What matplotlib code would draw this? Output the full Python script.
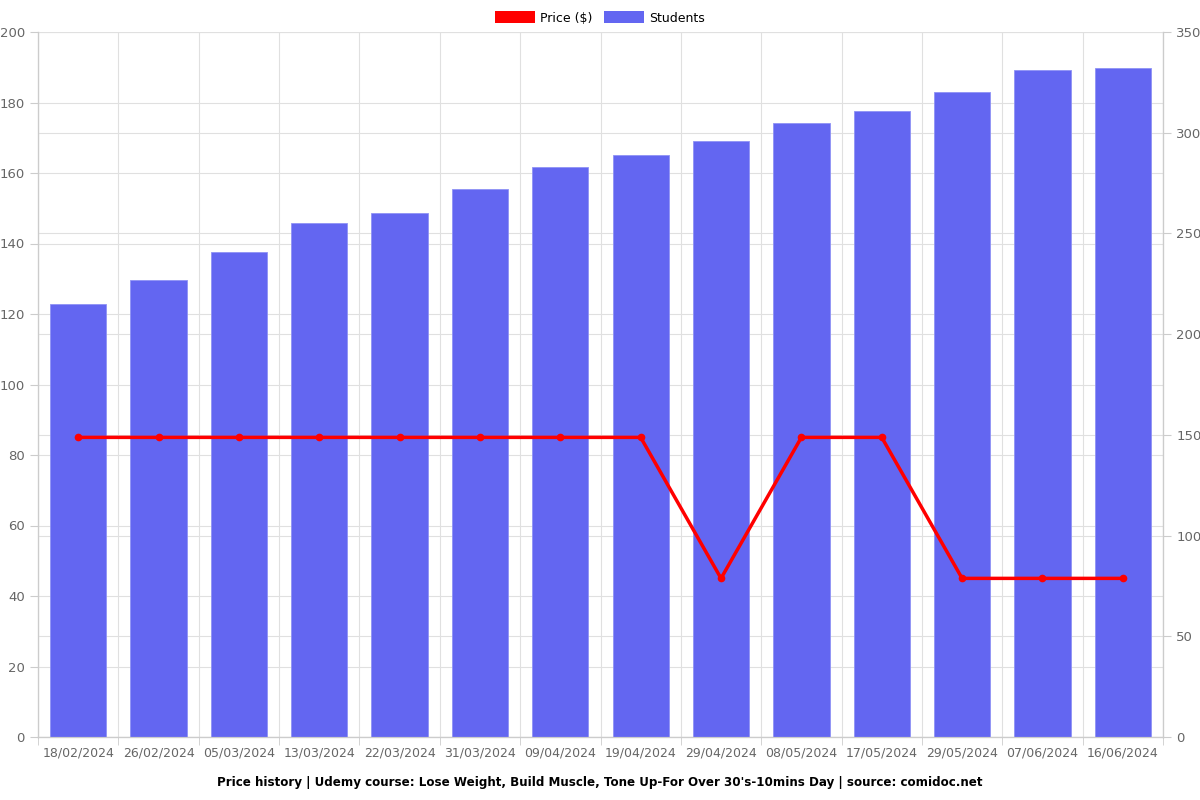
import matplotlib
matplotlib.use('Agg')
import matplotlib.pyplot as plt
from matplotlib.patches import Patch
from matplotlib.ticker import MultipleLocator, FixedLocator

# Data
dates = ['18/02/2024', '26/02/2024', '05/03/2024', '13/03/2024', '22/03/2024',
         '31/03/2024', '09/04/2024', '19/04/2024', '29/04/2024', '08/05/2024',
         '17/05/2024', '29/05/2024', '07/06/2024', '16/06/2024']
students = [215, 227, 241, 255, 260, 272, 283, 289, 296, 305, 311, 320, 331, 332]
price = [85, 85, 85, 85, 85, 85, 85, 85, 45, 85, 85, 45, 45, 45]

bar_color = '#6366f1'
line_color = '#ff0000'
grid_color = '#e0e0e0'
text_color = '#666666'

fig = plt.figure(figsize=(12, 8), dpi=100)
ax = fig.add_axes([38 / 1200, 63 / 800, 1125 / 1200, 705 / 800])
x = list(range(len(dates)))

# left axis: price grid only
ax.set_xlim(-0.5, len(dates) - 0.5)
ax.set_ylim(0, 200)
ax.yaxis.set_major_locator(MultipleLocator(20))
ax.set_xticks(x)
ax.set_xticklabels(dates)
ax.xaxis.set_minor_locator(FixedLocator([i - 0.5 for i in range(len(dates) + 1)]))
ax.grid(True, axis='y', which='major', color=grid_color, linewidth=0.8)
ax.grid(True, axis='x', which='minor', color=grid_color, linewidth=0.8)
ax.tick_params(axis='x', which='major', length=0, pad=7, labelsize=9, colors=text_color)
ax.tick_params(axis='x', which='minor', length=6, color='#cccccc')
ax.tick_params(axis='y', length=6, color='#cccccc', labelsize=9.5, labelcolor=text_color)
ax.set_axisbelow(True)

# right axis: students bars
ax2 = ax.twinx()
ax2.set_ylim(0, 350)
ax2.yaxis.set_major_locator(MultipleLocator(50))
ax2.grid(True, axis='y', color=grid_color, linewidth=0.8)
ax2.set_axisbelow(True)
ax2.bar(x, students, width=0.7, color=bar_color, edgecolor='#8f92f5', linewidth=0.6, zorder=2)
ax2.tick_params(axis='y', length=6, color='#cccccc', labelsize=9.5, labelcolor=text_color)

# top axis for the price line
ax3 = ax.twinx()
ax3.set_ylim(0, 200)
ax3.set_yticks([])
ax3.plot(x, price, color=line_color, linewidth=2.5, marker='o', markersize=4.5, zorder=3)

for a in (ax, ax2, ax3):
    for side, sp in a.spines.items():
        sp.set_color('#cccccc')
        sp.set_linewidth(0.8)
    a.spines['top'].set_visible(False)

handles = [Patch(facecolor=line_color, label='Price ($)'),
           Patch(facecolor=bar_color, label='Students')]
fig.legend(handles=handles, loc='upper center', bbox_to_anchor=(0.5, 1.0), ncol=2,
           frameon=False, fontsize=9, handlelength=3.2, handleheight=1.1,
           columnspacing=0.9, handletextpad=0.4)

fig.text(0.5, 0.022, "Price history | Udemy course: Lose Weight, Build Muscle, Tone Up-For Over 30's-10mins Day | source: comidoc.net",
         ha='center', va='center', fontsize=8.6, fontweight='bold')

fig.savefig('out.png', dpi=100)
